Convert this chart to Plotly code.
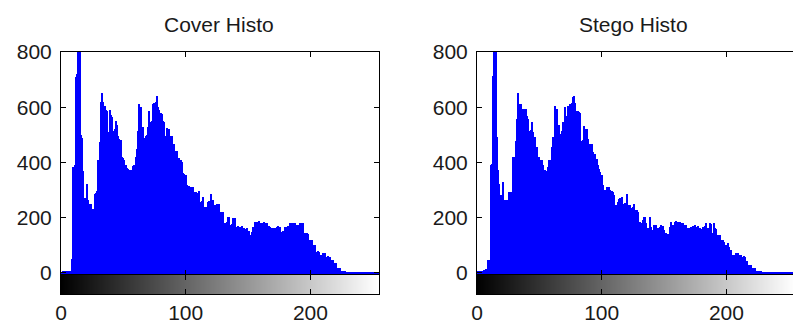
import plotly.graph_objects as go

# ---- data ----
gray_levels = list(range(256))

cover_counts = [
    2, 2, 3, 3, 3, 4, 4, 5, 8, 50, 385, 390, 710, 720, 1200, 1100,
    500, 490, 370, 270, 265, 320, 265, 250, 250, 225, 230, 285, 290, 295, 410, 475,
    620, 650, 620, 605, 590, 585, 510, 590, 570, 565, 515, 520, 550, 535, 495, 485,
    480, 420, 415, 410, 390, 380, 375, 372, 372, 370, 388, 390, 420, 450, 515, 610,
    600, 525, 530, 490, 497, 500, 530, 585, 545, 550, 610, 615, 620, 640, 600, 590,
    580, 575, 550, 548, 497, 525, 520, 520, 497, 495, 467, 465, 443, 440, 413, 415,
    410, 400, 360, 358, 353, 318, 315, 313, 312, 300, 310, 292, 293, 290, 288, 295,
    257, 260, 275, 240, 238, 240, 255, 260, 287, 263, 262, 245, 246, 251, 251, 250,
    221, 222, 221, 179, 180, 185, 203, 203, 173, 175, 197, 197, 198, 167, 170, 167,
    167, 168, 161, 162, 160, 161, 149, 150, 137, 149, 167, 167, 185, 185, 184, 186,
    179, 180, 178, 185, 179, 180, 167, 168, 167, 161, 162, 160, 161, 167, 168, 167,
    166, 149, 150, 149, 167, 165, 170, 167, 179, 180, 178, 181, 179, 173, 174, 172,
    179, 180, 179, 107, 143, 145, 142, 119, 120, 118, 101, 100, 102, 77, 78, 76,
    65, 66, 71, 72, 70, 59, 60, 58, 59, 47, 46, 36, 35, 34, 17, 18,
    16, 8, 8, 7, 6, 0, 0, 0, 0, 0, 0, 0, 0, 0, 0, 0,
    0, 0, 0, 0, 0, 0, 0, 0, 0, 0, 0, 0, 0, 0, 0, 0,
]

stego_counts = [
    3, 3, 3, 3, 3, 3, 10, 12, 10, 45, 48, 389, 395, 713, 1200, 1100,
    491, 371, 323, 281, 282, 329, 263, 262, 227, 263, 293, 292, 294, 419, 420, 479,
    557, 653, 611, 612, 575, 593, 594, 593, 569, 557, 515, 516, 545, 509, 455, 491,
    455, 419, 420, 407, 408, 389, 371, 372, 370, 383, 407, 408, 455, 491, 492, 605,
    593, 533, 534, 503, 515, 545, 546, 599, 569, 605, 606, 611, 617, 638, 639, 617,
    587, 588, 581, 580, 479, 480, 533, 521, 522, 485, 467, 468, 467, 437, 431, 432,
    413, 389, 377, 365, 353, 317, 299, 300, 311, 293, 311, 299, 298, 293, 281, 245,
    246, 257, 269, 270, 275, 245, 251, 252, 287, 239, 245, 246, 233, 239, 251, 228,
    227, 221, 185, 184, 179, 191, 203, 202, 179, 161, 162, 203, 167, 155, 172, 173,
    174, 161, 162, 167, 173, 170, 155, 125, 143, 142, 137, 167, 185, 173, 174, 185,
    186, 185, 184, 185, 179, 180, 173, 174, 172, 161, 162, 160, 167, 168, 166, 173,
    167, 168, 161, 162, 160, 167, 166, 168, 179, 161, 162, 179, 178, 143, 179, 161,
    160, 137, 138, 136, 119, 120, 113, 101, 102, 107, 95, 83, 84, 65, 66, 64,
    71, 70, 65, 66, 64, 59, 60, 58, 41, 42, 29, 30, 28, 17, 18, 16,
    8, 8, 8, 8, 8, 0, 0, 0, 0, 0, 0, 0, 0, 0, 0, 0,
    0, 0, 0, 0, 0, 0, 0, 0, 0, 0, 0, 0, 0, 0, 0, 0,
]

titles = ["Cover Histo", "Stego Histo"]
y_ticks = [0, 200, 400, 600, 800]
x_ticks = [0, 100, 200]

# ---- layout geometry (pixels) ----
W, H = 793, 325
TICK_FONT = dict(family="Liberation Sans, Arial, sans-serif", size=21, color="#1a1a1a")
TITLE_FONT = dict(family="Liberation Sans, Arial, sans-serif", size=21, color="#1a1a1a")


def px_x(p):
    return p / W


def px_y(p):
    return (H - p) / H


panels = [
    dict(x0=61, x1=379, xmax=255, title_x=219),
    dict(x0=477, x1=793, xmax=255 * 316 / 318, title_x=633),
]
hist_top, hist_bot, cb_bot = 52, 275, 294

fig = go.Figure()
series = [cover_counts, stego_counts]

for i, (pan, counts) in enumerate(zip(panels, series)):
    hx = "x" if i == 0 else f"x{2 * i + 1}"
    hy = "y" if i == 0 else f"y{2 * i + 1}"
    cx = f"x{2 * i + 2}"
    cy = f"y{2 * i + 2}"
    fig.add_trace(go.Bar(
        x=gray_levels, y=counts, xaxis=hx, yaxis=hy,
        marker=dict(color="#0000ff", line=dict(width=0)),
        hoverinfo="x+y", showlegend=False,
    ))
    fig.add_trace(go.Heatmap(
        x=gray_levels, y=[0], z=[gray_levels], xaxis=cx, yaxis=cy,
        colorscale=[[0, "#000000"], [1, "#ffffff"]], showscale=False,
        zmin=0, zmax=255, hoverinfo="skip",
    ))
    dom_x = [px_x(pan["x0"]), px_x(pan["x1"])]
    last = i == 1
    common = dict(showline=True, linecolor="black", linewidth=1, ticks="inside",
                  ticklen=5, tickcolor="black", tickwidth=1, showgrid=False,
                  tickfont=TICK_FONT, fixedrange=True, automargin=False)
    k = "" if i == 0 else str(2 * i + 1)
    fig.layout["xaxis" + k] = dict(
        common, domain=dom_x, range=[0, pan["xmax"]], tickvals=x_ticks,
        showticklabels=False, mirror="ticks", anchor=hy,
        zeroline=False,
    )
    fig.layout["yaxis" + k] = dict(
        common, domain=[px_y(hist_bot), px_y(hist_top)], range=[-8, 800],
        tickvals=y_ticks, mirror=(False if last else "ticks"),
        anchor=hx, zeroline=True, zerolinecolor="#0000ff", zerolinewidth=2,
        ticklabelstandoff=4,
    )
    kc = str(2 * i + 2)
    fig.layout["xaxis" + kc] = dict(
        common, domain=dom_x, range=[0, pan["xmax"]], tickvals=x_ticks,
        mirror="ticks", anchor=cy, zeroline=False, ticklabelstandoff=0,
    )
    fig.layout["yaxis" + kc] = dict(
        common, domain=[px_y(cb_bot), px_y(hist_bot)], range=[-0.5, 0.5],
        showticklabels=False, ticks="", mirror=(False if last else True),
        anchor=cx, zeroline=False,
    )
    fig.add_annotation(
        text=titles[i], x=px_x(pan["title_x"]), y=px_y(24), xref="paper",
        yref="paper", showarrow=False, font=TITLE_FONT, xanchor="center",
        yanchor="middle",
    )

fig.update_layout(
    template="none",
    width=W, height=H, margin=dict(l=0, r=0, t=0, b=0, pad=0, autoexpand=False),
    paper_bgcolor="white", plot_bgcolor="white", bargap=0,
    font=TICK_FONT, showlegend=False,
)

fig.write_html(
    "out.html",
    config={"displayModeBar": False},
    post_script="document.body.style.margin='0';document.body.style.overflow='hidden';",
)
